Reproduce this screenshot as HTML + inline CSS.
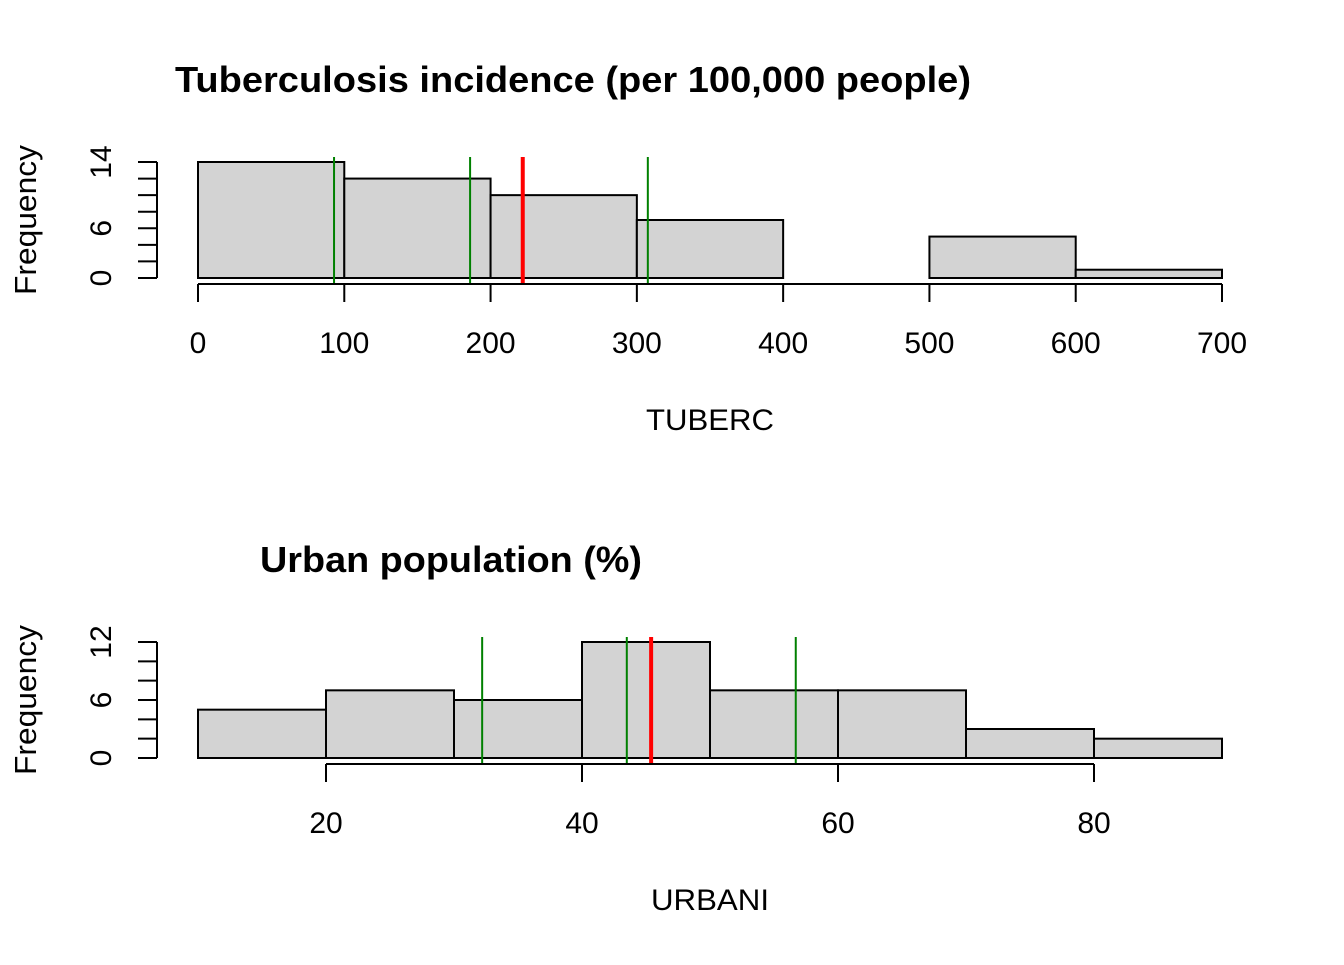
<!DOCTYPE html>
<html><head><meta charset="utf-8"><style>
body{margin:0;background:#fff}
svg text{font-family:"Liberation Sans",Arial,sans-serif}
</style></head><body>
<svg id="c" width="1344" height="960" xmlns="http://www.w3.org/2000/svg"></svg>
<script>
const tbBreaks=[0,100,200,300,400,500,600,700];
const tbCounts=[14,12,10,7,0,5,1];
const tbGreen=[93,186,307.5];
const tbRed=[222];
const tbXTicks=[0,100,200,300,400,500,600,700];
const tbYTicks=[0,2,4,6,8,10,12,14];
const tbYLabels=[0,6,14];
const urBreaks=[10,20,30,40,50,60,70,80,90];
const urCounts=[5,7,6,12,7,7,3,2];
const urGreen=[32.2,43.5,56.7];
const urRed=[45.4];
const urXTicks=[20,40,60,80];
const urYTicks=[0,2,4,6,8,10,12];
const urYLabels=[0,6,12];
const svg=document.getElementById('c');
const NS='http://www.w3.org/2000/svg';
function mk(tag,attrs,name,parent){const e=document.createElementNS(NS,tag);for(const k in attrs)e.setAttribute(k,attrs[k]);


(parent||svg).appendChild(e);return e;}
function panel(p){
 const g=mk('g',{},p.name);
 const X=v=>198+(v-p.x0)/(p.x1-p.x0)*1024;
 const Y=v=>p.yb-v/p.ymax*(p.yb-p.yt);
 for(let i=0;i<p.counts.length;i++){
  const x=X(p.breaks[i]),w=X(p.breaks[i+1])-x,y=Y(p.counts[i]);
  mk('rect',{x:x,y:y,width:w,height:p.yb-y,fill:'#d3d3d3',stroke:'#000','stroke-width':2},'bar-'+i,g);
 }
 p.green.forEach((v,i)=>mk('line',{x1:X(v),x2:X(v),y1:p.yt-5,y2:p.yb+6,stroke:'#008000','stroke-width':2},'quartile-line-'+i,g));
 p.red.forEach((v,i)=>mk('line',{x1:X(v),x2:X(v),y1:p.yt-5,y2:p.yb+6,stroke:'#ff0000','stroke-width':4},'mean-line',g));
 mk('line',{x1:157,x2:157,y1:Y(p.yticks[0]),y2:Y(p.yticks[p.yticks.length-1]),stroke:'#000','stroke-width':2},'y-axis',g);
 p.yticks.forEach(v=>mk('line',{x1:138,x2:157,y1:Y(v),y2:Y(v),stroke:'#000','stroke-width':2},'y-tick',g));
 p.ylabels.forEach(v=>{const t=mk('text',{x:111,y:Y(v),'font-size':30,'text-anchor':'middle',transform:`rotate(-90 111 ${Y(v)})`},'y-tick-label',g);t.textContent=v;});
 const xa=p.yb+6;
 mk('line',{x1:X(p.xticks[0]),x2:X(p.xticks[p.xticks.length-1]),y1:xa,y2:xa,stroke:'#000','stroke-width':2},'x-axis',g);
 p.xticks.forEach(v=>{mk('line',{x1:X(v),x2:X(v),y1:xa,y2:xa+18,stroke:'#000','stroke-width':2},'x-tick',g);
  const t=mk('text',{x:X(v),y:xa+69,'font-size':30,'text-anchor':'middle'},'x-tick-label',g);t.textContent=v;});
 let t=mk('text',{x:710,y:p.yb+152,'font-size':30,'text-anchor':'middle',textLength:p.xlabW,lengthAdjust:'spacingAndGlyphs'},'x-axis-title',g);t.textContent=p.xlab;
 const cy=(p.yt+p.yb)/2;
 t=mk('text',{x:36,y:cy,'font-size':31,'text-anchor':'middle',textLength:150,lengthAdjust:'spacingAndGlyphs',transform:`rotate(-90 36 ${cy})`},'y-axis-title',g);t.textContent='Frequency';
 t=mk('text',{x:p.tx,y:p.yt-70,'font-size':36,'font-weight':'bold','text-anchor':'middle',textLength:p.tw,lengthAdjust:'spacingAndGlyphs'},'chart-title',g);t.textContent=p.title;
}
panel({name:'tuberc-panel',breaks:tbBreaks,counts:tbCounts,green:tbGreen,red:tbRed,xticks:tbXTicks,yticks:tbYTicks,ylabels:tbYLabels,x0:0,x1:700,ymax:14,yt:162,yb:278,xlab:'TUBERC',xlabW:128,title:'Tuberculosis incidence (per 100,000 people)',tx:573,tw:796});
panel({name:'urbani-panel',breaks:urBreaks,counts:urCounts,green:urGreen,red:urRed,xticks:urXTicks,yticks:urYTicks,ylabels:urYLabels,x0:10,x1:90,ymax:12,yt:642,yb:758,xlab:'URBANI',xlabW:118,title:'Urban population (%)',tx:451,tw:382});
</script>
</body></html>
